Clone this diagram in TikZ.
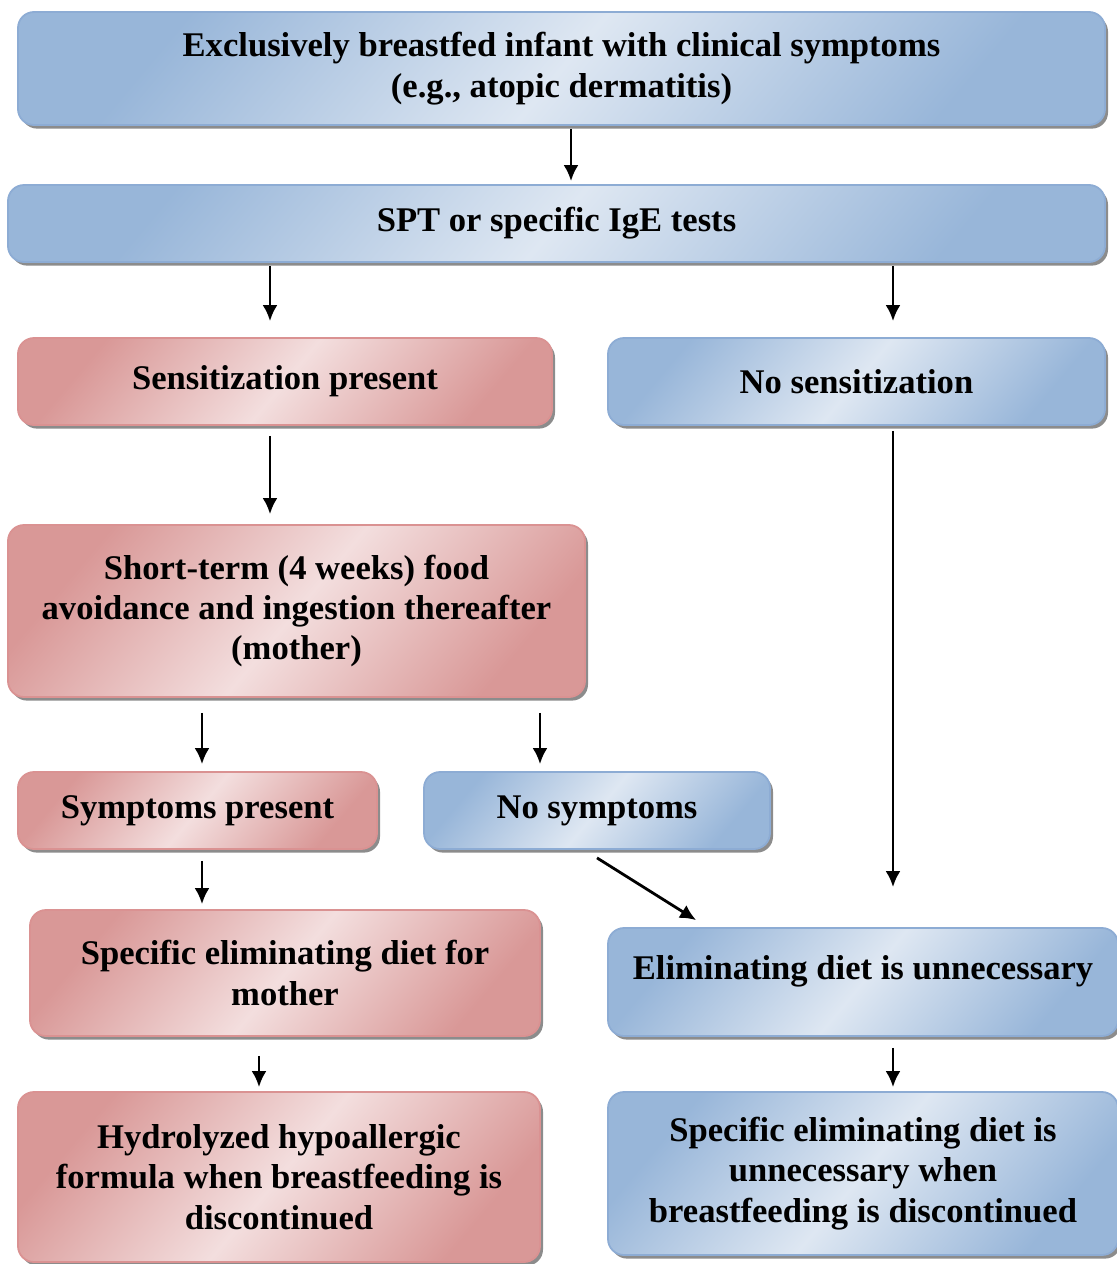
\documentclass[tikz,border=0pt]{standalone}
\usepackage{fontspec}
\setmainfont{Liberation Serif}
\usepackage{tikz}
\usetikzlibrary{arrows.meta, shadows, positioning, calc}

\definecolor{blight}{RGB}{222,231,242}
\definecolor{bdark}{RGB}{152,182,217}
\definecolor{bline}{RGB}{141,172,212}
\definecolor{rlight}{RGB}{243,222,222}
\definecolor{rdark}{RGB}{217,152,151}
\definecolor{rline}{RGB}{218,146,146}

\begin{document}
\begin{tikzpicture}[x=0.5pt, y=-0.5pt,
    box/.style={rectangle, rounded corners=8pt, line width=0.9pt, align=center, inner sep=0pt,
      font=\bfseries\fontsize{17.3}{20.2}\selectfont,
      drop shadow={shadow xshift=1.5pt, shadow yshift=-1.8pt, fill=black!45, opacity=1}},
    blue_box/.style={box, draw=bline, left color=bdark, right color=bdark, middle color=blight, shading angle=50},
    red_box/.style={box, draw=rline, left color=rdark, right color=rdark, middle color=rlight, shading angle=50},
    arr/.style={line width=1.4pt, -{Latex[length=8pt, width=7.5pt]}},
    ]
    \useasboundingbox (0,0) rectangle (1117,1264);

    % Nodes
    \node[blue_box, minimum width=543.5pt, minimum height=56.5pt] (infant) at (561.5,68.5)
      {Exclusively breastfed infant with clinical symptoms\\(e.g., atopic dermatitis)};
    \node[blue_box, minimum width=548.5pt, minimum height=38.5pt] (tests) at (556.5,223.5)
      {SPT or specific IgE tests};
    \node[red_box, minimum width=267pt, minimum height=43.5pt] (sens) at (285,381.5)
      {Sensitization present};
    \node[blue_box, minimum width=248.5pt, minimum height=43.5pt] (nosens) at (856.5,381.5)
      {No sensitization};
    \node[red_box, minimum width=288.5pt, minimum height=86pt] (avoid) at (296.5,611)
      {Short-term (4 weeks) food\\avoidance and ingestion thereafter\\(mother)};
    \node[red_box, minimum width=179.5pt, minimum height=38.5pt] (sympt) at (197.5,810.5)
      {Symptoms present};
    \node[blue_box, minimum width=173pt, minimum height=38.5pt] (nosympt) at (597,810.5)
      {No symptoms};
    \node[red_box, minimum width=255pt, minimum height=63pt] (diet) at (285,973)
      {Specific eliminating diet for\\mother};
    \node[blue_box, minimum width=255pt, minimum height=54pt, text height=12pt, text depth=15pt] (unneeded) at (863,982)
      {Eliminating diet is unnecessary};
    \node[red_box, minimum width=261pt, minimum height=85pt] (formula) at (279,1177)
      {Hydrolyzed hypoallergic\\formula when breastfeeding is\\discontinued};
    \node[blue_box, minimum width=255pt, minimum height=81.5pt] (noformula) at (863,1173.5)
      {Specific eliminating diet is\\unnecessary when\\breastfeeding is discontinued};

    % Arrow columns
    \coordinate (c1) at (571,0);
    \coordinate (c2) at (270,0);
    \coordinate (c3) at (893,0);
    \coordinate (c4) at (202,0);
    \coordinate (c5) at (540,0);
    \coordinate (c6) at (259,0);

    % Arrows
    \draw[arr, shorten <=1.5pt, shorten >=1.5pt] (infant.south -| c1) -- (tests.north -| c1);
    \draw[arr, shorten <=1.5pt, shorten >=8pt] (tests.south -| c2) -- (sens.north -| c2);
    \draw[arr, shorten <=1.5pt, shorten >=8pt] (tests.south -| c3) -- (nosens.north -| c3);
    \draw[arr, shorten <=5pt, shorten >=5pt] (sens.south -| c2) -- (avoid.north -| c2);
    \draw[arr, shorten <=2.5pt, shorten >=20pt] (nosens.south -| c3) -- (unneeded.north -| c3);
    \draw[arr, shorten <=7.5pt, shorten >=3.5pt] (avoid.south -| c4) -- (sympt.north -| c4);
    \draw[arr, shorten <=7.5pt, shorten >=3.5pt] (avoid.south -| c5) -- (nosympt.north -| c5);
    \draw[arr, shorten <=5.5pt, shorten >=2.5pt] (sympt.south -| c4) -- (diet.north -| c4);
    \draw[arr] ([yshift=-4pt]nosympt.south) -- ([xshift=44.5pt, yshift=3.5pt]unneeded.north west);
    \draw[arr, shorten <=9.5pt, shorten >=2pt] (diet.south -| c6) -- (formula.north -| c6);
    \draw[arr, shorten <=5.5pt, shorten >=2pt] (unneeded.south -| c3) -- (noformula.north -| c3);
\end{tikzpicture}
\end{document}
